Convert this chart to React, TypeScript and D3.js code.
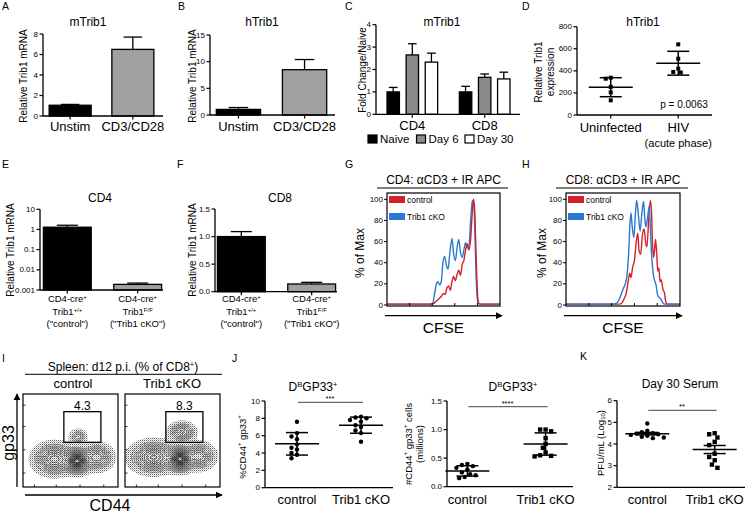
import React from 'react';
import * as d3 from 'd3';

const FONT = '"Liberation Sans", Arial, Helvetica, sans-serif';
const RED = '#d42027';
const BLUE = '#2a78d4';

// A: mTrib1
const stimCats = ['Unstim', 'CD3/CD28'];
const aMeans = [1.05, 6.5];
const aErrs = [0.08, 1.2];
const aTicks = [0, 2, 4, 6, 8];

// B: hTrib1
const bMeans = [1.05, 8.5];
const bErrs = [0.35, 1.9];
const bTicks = [0, 5, 10, 15];

// C: mTrib1 by day
const cGroups = ['CD4', 'CD8'];
const cSeries = ['Naive', 'Day 6', 'Day 30'];
const cCD4Means = [1.0, 2.65, 2.33];
const cCD4Errs = [0.2, 0.5, 0.4];
const cCD8Means = [1.0, 1.65, 1.58];
const cCD8Errs = [0.25, 0.15, 0.3];
const cTicks = [0, 1, 2, 3, 4];

// D: hTrib1 in HIV
const dCats = ['Uninfected', 'HIV'];
const dUninfected = [329, 338, 254, 205, 133];
const dHiv = [640, 510, 420, 390, 385];
const dTicks = [0, 200, 400, 600, 800];

// E / F: knockout check
const koCats = ['control', 'Trib1 cKO'];
const koGenotype = ['+/+', 'F/F'];
const eMeans = [1.3, 0.0019];
const eErrs = [0.32, 0.0003];
const eTicks = [0.001, 0.01, 0.1, 1, 10];
const fMeans = [1.0, 0.14];
const fErrs = [0.09, 0.03];
const fTicks = [0, 0.5, 1.0, 1.5];

// G / H: CFSE histograms, [CFSE position (% of axis), % of max]
const histTicks = [0, 20, 40, 60, 80, 100];
const gControl = [[0, 0.8], [40, 0.8], [42, 2], [44, 4], [46, 6], [48, 8], [50, 11], [51.5, 10], [53, 16], [54.5, 18], [56, 14], [57.5, 22], [59, 27], [60.5, 23], [62, 29], [63.5, 33], [65, 28], [66.5, 38], [68, 42], [69.5, 52], [71, 58], [72.5, 52], [74, 62], [75.5, 88], [76.5, 100], [77.5, 92], [78.5, 60], [79.5, 25], [80.5, 5], [82, 0.8], [100, 0.8]];
const gCko = [[0, 0.8], [38, 0.8], [40.5, 1.5], [42, 10], [43.5, 19], [45, 22], [46.5, 19], [48, 22], [49.5, 40], [51, 46], [52.5, 38], [54, 34], [55.5, 48], [57.5, 63], [59, 48], [60.5, 42], [62, 54], [63.5, 62], [65, 50], [66.5, 45], [68, 52], [69.5, 59], [71, 54], [72.5, 55], [74, 80], [75.5, 98], [76.5, 99], [77.5, 80], [78.5, 40], [79.5, 12], [80.5, 2], [82, 0.8], [100, 0.8]];
const hControl = [[0, 0.8], [47, 0.8], [49, 2], [51, 6], [53, 12], [54.5, 22], [56, 30], [57, 26], [58.5, 36], [60, 42], [61.5, 58], [63, 68], [64, 52], [65.5, 48], [67, 66], [68.5, 72], [70, 58], [71, 55], [72.5, 80], [74, 99], [75, 88], [76, 55], [77, 45], [78.5, 62], [79.5, 50], [80.5, 32], [81.5, 35], [82.5, 22], [83.5, 24], [85, 15], [86.5, 11], [87.5, 3], [89, 0.8], [100, 0.8]];
const hCko = [[0, 0.8], [42, 0.8], [44, 1.5], [46, 4], [48, 9], [50, 15], [52, 20], [53.5, 28], [55, 50], [56, 75], [57, 87], [58, 75], [59.5, 64], [61, 88], [62, 99], [63.5, 85], [65, 70], [66.5, 86], [68, 98], [69, 84], [70, 74], [71.5, 82], [73, 94], [74, 72], [75, 49], [76.5, 30], [77.5, 24], [79, 19], [80.5, 9], [82, 7], [83.5, 5], [85, 2], [86.5, 0.8], [100, 0.8]];

// I: flow populations [x, y, spreadX, spreadY, weight] as fractions of the plot
const iControlPops = [
  [0.57, 0.28, 0.06, 0.055, 1.0],
  [0.33, 0.30, 0.09, 0.07, 0.45],
  [0.78, 0.32, 0.07, 0.06, 0.3],
  [0.58, 0.54, 0.04, 0.035, 0.12],
];
const iCkoPops = [
  [0.58, 0.30, 0.06, 0.055, 1.0],
  [0.30, 0.32, 0.10, 0.07, 0.5],
  [0.78, 0.33, 0.07, 0.06, 0.3],
  [0.60, 0.59, 0.06, 0.045, 0.26],
];
const iGate = [0.43, 0.82, 0.48, 0.81];
const iGatePct = ['4.3', '8.3'];
const contourLevels = [0.035, 0.06, 0.09, 0.13, 0.18, 0.24, 0.31, 0.39, 0.47, 0.55, 0.63, 0.71, 0.79, 0.87, 0.94];

// J / K: individual mice
const jPctControl = [7.6, 6.3, 5.9, 5.6, 5.0, 4.6, 4.4, 4.0, 3.8, 3.4];
const jPctCko = [8.2, 8.1, 8.0, 7.8, 7.6, 7.2, 7.0, 6.6, 6.3, 5.3];
const jPctTicks = [0, 2, 4, 6, 8, 10];
const jNumControl = [0.40, 0.38, 0.36, 0.33, 0.30, 0.25, 0.22, 0.20, 0.17, 0.15];
const jNumCko = [1.0, 1.0, 0.97, 0.85, 0.75, 0.68, 0.60, 0.55, 0.54, 0.53];
const jNumTicks = [0, 0.5, 1.0, 1.5];
const kControl = [4.95, 4.62, 4.55, 4.5, 4.48, 4.45, 4.42, 4.38, 4.33, 4.3, 4.27];
const kCko = [4.5, 4.45, 4.3, 4.1, 3.95, 3.55, 3.4, 3.25, 3.05, 2.9];
const kTicks = [2, 3, 4, 5, 6];

const fmt1 = d3.format('.1f');

function YAxis({ x, y, ticks, fmt = (t: number) => String(t), size = 8 }: any) {
  const [y0, y1] = y.range();
  return (
    <g>
      <line x1={x} x2={x} y1={y0} y2={y1} stroke="#000" strokeWidth={1.3} />
      {ticks.map((t: number) => (
        <g key={t}>
          <line x1={x - 3.5} x2={x} y1={y(t)} y2={y(t)} stroke="#000" strokeWidth={1.2} />
          <text x={x - 5} y={y(t)} fontSize={size} textAnchor="end" dominantBaseline="central">{fmt(t)}</text>
        </g>
      ))}
    </g>
  );
}

function RotLabel({ x, y, size = 10, children }: any) {
  return (
    <text transform={`translate(${x},${y}) rotate(-90)`} fontSize={size} textAnchor="middle" dominantBaseline="central">
      {children}
    </text>
  );
}

function Letter({ x, y, children }: any) {
  return <text x={x} y={y} fontSize={10.5}>{children}</text>;
}

function Bars({ x, y, cats, means, errs, fills, axisX, axisEnd, ticks, fmt }: any) {
  const base = y.range()[0];
  const bw = x.bandwidth();
  return (
    <g>
      {cats.map((c: string, i: number) => {
        const cx = x(c) + bw / 2;
        const top = y(means[i]);
        const eTop = y(means[i] + errs[i]);
        return (
          <g key={c}>
            <line x1={cx} x2={cx} y1={top} y2={eTop} stroke="#000" strokeWidth={1.3} />
            <line x1={cx - bw * 0.22} x2={cx + bw * 0.22} y1={eTop} y2={eTop} stroke="#000" strokeWidth={1.3} />
            <rect x={x(c)} y={top} width={bw} height={base - top} fill={fills[i]} stroke="#000" strokeWidth={1.3} />
            <line x1={cx} x2={cx} y1={base} y2={base + 3.5} stroke="#000" strokeWidth={1.2} />
          </g>
        );
      })}
      <line x1={axisX} x2={axisEnd} y1={base} y2={base} stroke="#000" strokeWidth={1.3} />
      <YAxis x={axisX} y={y} ticks={ticks} fmt={fmt} />
    </g>
  );
}

function StimPanel({ means, errs, ticks, domainMax, yRange, axisX, axisEnd, bandRange, title, titleX, labelX }: any) {
  const y = d3.scaleLinear().domain([0, domainMax]).range(yRange);
  const x = d3.scaleBand().domain(stimCats).range(bandRange).paddingInner(0.33).paddingOuter(0.05);
  return (
    <g>
      <text x={titleX} y={26} fontSize={12} textAnchor="middle">{title}</text>
      <Bars x={x} y={y} cats={stimCats} means={means} errs={errs} fills={['#000', '#a0a0a0']} axisX={axisX} axisEnd={axisEnd} ticks={ticks} />
      {stimCats.map(c => (
        <text key={c} x={x(c)! + x.bandwidth() / 2} y={131} fontSize={13} textAnchor="middle">{c}</text>
      ))}
      <RotLabel x={labelX} y={76}>Relative Trib1 mRNA</RotLabel>
    </g>
  );
}

function PanelC() {
  const y = d3.scaleLinear().domain([0, 4]).range([114.3, 24.7]);
  const gx = d3.scaleBand().domain(cGroups).range([387, 510]).paddingInner(0.3);
  const sx = d3.scaleBand().domain(cSeries).range([0, gx.bandwidth()]).paddingInner(0.35);
  const fills = ['#000', '#8a8a8a', '#fff'];
  const groupMeans = [cCD4Means, cCD8Means];
  const groupErrs = [cCD4Errs, cCD8Errs];
  const base = y(0);
  return (
    <g>
      <text x={442} y={26} fontSize={12} textAnchor="middle">mTrib1</text>
      {cGroups.map((g, gi) => (
        <g key={g}>
          {cSeries.map((s, si) => {
            const x0 = gx(g)! + sx(s)!;
            const bw = sx.bandwidth();
            const v = groupMeans[gi][si];
            const e = y(v + groupErrs[gi][si]);
            return (
              <g key={s}>
                <line x1={x0 + bw / 2} x2={x0 + bw / 2} y1={y(v)} y2={e} stroke="#000" strokeWidth={1.3} />
                <line x1={x0 + bw * 0.15} x2={x0 + bw * 0.85} y1={e} y2={e} stroke="#000" strokeWidth={1.3} />
                <rect x={x0} y={y(v)} width={bw} height={base - y(v)} fill={fills[si]} stroke="#000" strokeWidth={1.3} />
              </g>
            );
          })}
          <line x1={gx(g)! + gx.bandwidth() / 2} x2={gx(g)! + gx.bandwidth() / 2} y1={base} y2={base + 3.5} stroke="#000" strokeWidth={1.2} />
          <text x={gx(g)! + gx.bandwidth() / 2} y={130} fontSize={13} textAnchor="middle">{g}</text>
        </g>
      ))}
      <line x1={376} x2={520} y1={base} y2={base} stroke="#000" strokeWidth={1.3} />
      <YAxis x={376} y={y} ticks={cTicks} />
      <RotLabel x={362} y={70}>Fold Change/Naive</RotLabel>
      {cSeries.map((s, i) => (
        <g key={s} transform={`translate(${368 + i * 48.5},139)`}>
          <rect x={0} y={-4} width={9} height={8} fill={fills[i]} stroke="#000" strokeWidth={1.2} />
          <text x={12} y={0} fontSize={11.5} dominantBaseline="central">{s}</text>
        </g>
      ))}
    </g>
  );
}

function swarm(values: number[], y: any, r: number) {
  const order = values.map((_, i) => i).sort((a, b) => values[b] - values[a]);
  const placed: { o: number; y: number }[] = [];
  const offs = new Array(values.length).fill(0);
  order.forEach(i => {
    const yy = y(values[i]);
    for (let k = 0; k < 30; k++) {
      const o = (k % 2 === 0 ? 1 : -1) * Math.ceil(k / 2) * r * 1.25;
      const hit = placed.some(p => (p.o - o) ** 2 + (p.y - yy) ** 2 < (2 * r + 0.3) ** 2);
      if (!hit) { offs[i] = o; placed.push({ o, y: yy }); break; }
    }
  });
  return offs;
}

function DotGroup({ cx, y, values, shape, bar, r = 2.2 }: any) {
  const offs = swarm(values, y, r);
  const mean = d3.mean(values)!;
  const spread = bar === 'sem' ? d3.deviation(values)! / Math.sqrt(values.length) : d3.deviation(values)!;
  const hi = y(mean + spread), lo = y(mean - spread), m = y(mean);
  return (
    <g>
      {values.map((v: number, i: number) =>
        shape === 'square'
          ? <rect key={i} x={cx + offs[i] - r} y={y(v) - r} width={2 * r} height={2 * r} fill="#000" />
          : <circle key={i} cx={cx + offs[i]} cy={y(v)} r={r} fill="#000" />
      )}
      <line x1={cx - 22} x2={cx + 22} y1={m} y2={m} stroke="#000" strokeWidth={1.5} />
      <line x1={cx} x2={cx} y1={hi} y2={lo} stroke="#000" strokeWidth={1.5} />
      <line x1={cx - 11} x2={cx + 11} y1={hi} y2={hi} stroke="#000" strokeWidth={1.5} />
      <line x1={cx - 11} x2={cx + 11} y1={lo} y2={lo} stroke="#000" strokeWidth={1.5} />
    </g>
  );
}

function PanelD() {
  const y = d3.scaleLinear().domain([0, 800]).range([115, 26.7]);
  const x = d3.scalePoint().domain(dCats).range([577, 712]).padding(0.5);
  return (
    <g>
      <text x={643} y={26} fontSize={12} textAnchor="middle">hTrib1</text>
      <DotGroup cx={x('Uninfected')} y={y} values={dUninfected} shape="square" r={2} />
      <DotGroup cx={x('HIV')} y={y} values={dHiv} shape="square" r={2} />
      <line x1={577} x2={712} y1={y(0)} y2={y(0)} stroke="#000" strokeWidth={1.3} />
      {dCats.map(c => <line key={c} x1={x(c)} x2={x(c)} y1={y(0)} y2={y(0) + 3.5} stroke="#000" strokeWidth={1.2} />)}
      <YAxis x={577} y={y} ticks={dTicks} />
      <text x={684} y={108} fontSize={10} textAnchor="middle">p = 0.0063</text>
      <text x={x('Uninfected')} y={132} fontSize={13} textAnchor="middle">Uninfected</text>
      <text x={x('HIV')} y={132} fontSize={13} textAnchor="middle">HIV</text>
      <text x={x('HIV')} y={147} fontSize={11} textAnchor="middle">(acute phase)</text>
      <RotLabel x={538} y={72}>Relative Trib1</RotLabel>
      <RotLabel x={550} y={72}>expression</RotLabel>
    </g>
  );
}

function KoLabels({ x, y0 }: any) {
  return (
    <g>
      {koCats.map((c, i) => {
        const cx = x(c) + x.bandwidth() / 2;
        return (
          <g key={c} fontSize={9.5} textAnchor="middle">
            <text x={cx} y={y0}>CD4-cre<tspan fontSize={6} baselineShift="super">+</tspan></text>
            <text x={cx} y={y0 + 12.5}>Trib1<tspan fontSize={6} baselineShift="super">{koGenotype[i]}</tspan></text>
            <text x={cx} y={y0 + 25}>("{c}")</text>
          </g>
        );
      })}
    </g>
  );
}

function PanelE() {
  const y = d3.scaleLog().domain([0.001, 10]).range([290, 209.3]);
  const x = d3.scaleBand().domain(koCats).range([42, 163]).paddingInner(0.32).paddingOuter(0.02);
  return (
    <g>
      <text x={100} y={202} fontSize={12} textAnchor="middle">CD4</text>
      <Bars x={x} y={y} cats={koCats} means={eMeans} errs={eErrs} fills={['#000', '#a0a0a0']} axisX={40} axisEnd={163} ticks={eTicks} fmt={(t: number) => String(t)} />
      <KoLabels x={x} y0={302} />
      <RotLabel x={10} y={250}>Relative Trib1 mRNA</RotLabel>
    </g>
  );
}

function PanelF() {
  const y = d3.scaleLinear().domain([0, 1.5]).range([291.7, 209]);
  const x = d3.scaleBand().domain(koCats).range([216, 337]).paddingInner(0.32).paddingOuter(0.02);
  return (
    <g>
      <text x={280} y={202} fontSize={12} textAnchor="middle">CD8</text>
      <Bars x={x} y={y} cats={koCats} means={fMeans} errs={fErrs} fills={['#000', '#a0a0a0']} axisX={215} axisEnd={337} ticks={fTicks} fmt={fmt1} />
      <KoLabels x={x} y0={302} />
      <RotLabel x={192} y={250}>Relative Trib1 mRNA</RotLabel>
    </g>
  );
}

function Histogram({ left, right, title, control, cko, blueOnTop, labelX }: any) {
  const top = 193, bottom = 306;
  const x = d3.scaleLinear().domain([0, 100]).range([left, right]);
  const y = d3.scaleLinear().domain([0, 100]).range([305, 199.3]);
  const line = d3.line<number[]>().x(d => x(d[0])).y(d => y(d[1])).curve(d3.curveMonotoneX);
  const mid = (left + right) / 2;
  const red = <path d={line(control)!} fill="none" stroke={RED} strokeWidth={1.4} />;
  const blue = <path d={line(cko)!} fill="none" stroke={BLUE} strokeWidth={1.4} />;
  return (
    <g>
      <text x={mid} y={184} fontSize={12} textAnchor="middle">{title}</text>
      <line x1={left - 10} x2={right + 8} y1={188} y2={188} stroke="#000" strokeWidth={1} />
      {blueOnTop ? [red, blue].map((p, i) => <g key={i}>{p}</g>) : [blue, red].map((p, i) => <g key={i}>{p}</g>)}
      <rect x={left} y={top} width={right - left} height={bottom - top} fill="none" stroke="#000" strokeWidth={1.2} />
      {histTicks.map(t => (
        <g key={t}>
          <line x1={left - 3} x2={left} y1={y(t)} y2={y(t)} stroke="#000" strokeWidth={1} />
          <text x={left - 4} y={y(t)} fontSize={8} textAnchor="end" dominantBaseline="central">{t}</text>
        </g>
      ))}
      {[20, 40, 60, 80].map(t => (
        <line key={t} x1={x(t)} x2={x(t)} y1={bottom} y2={bottom - 3} stroke="#000" strokeWidth={1} />
      ))}
      <rect x={left + 2} y={196} width={16} height={7} fill={RED} />
      <text x={left + 20} y={200} fontSize={8.5} dominantBaseline="central">control</text>
      <rect x={left + 2} y={213} width={16} height={7} fill={BLUE} />
      <text x={left + 20} y={217} fontSize={8.5} dominantBaseline="central">Trib1 cKO</text>
      <line x1={left - 2} x2={right + 2} y1={315.7} y2={315.7} stroke="#000" strokeWidth={1.3} markerEnd="url(#arrow)" />
      <text x={mid} y={333} fontSize={15.5} textAnchor="middle">CFSE</text>
      <RotLabel x={labelX} y={253} size={12}>% of Max</RotLabel>
    </g>
  );
}

function FlowPlot({ x, y, w, h, pops, pct }: any) {
  const n = 64;
  const grid: number[] = [];
  for (let j = 0; j < n; j++) {
    for (let i = 0; i < n; i++) {
      const fx = (i + 0.5) / n, fy = 1 - (j + 0.5) / n;
      let v = 0;
      pops.forEach((p: number[]) => {
        v += p[4] * Math.exp(-((fx - p[0]) ** 2) / (2 * p[2] ** 2) - ((fy - p[1]) ** 2) / (2 * p[3] ** 2));
      });
      grid.push(v);
    }
  }
  const max = d3.max(grid)!;
  const proj = d3.geoTransform({
    point(px: number, py: number) { (this as any).stream.point(x + (px * w) / n, y + (py * h) / n); },
  });
  const path = d3.geoPath(proj);
  const halo = d3.contours().size([n, n]).thresholds([max * 0.005])(grid);
  const lines = d3.contours().size([n, n]).thresholds(contourLevels.map(l => l * max))(grid);
  const shade = d3.scaleLinear<string>().domain([0, lines.length - 1]).range(['#6f6f6f', '#000']);
  const [gx0, gx1, gy0, gy1] = iGate;
  return (
    <g>
      {halo.map((c, i) => <path key={i} d={path(c as any)!} fill="url(#speckle)" stroke="none" />)}
      {lines.map((c, i) => <path key={i} d={path(c as any)!} fill="none" stroke={shade(i)} strokeWidth={0.8} />)}
      <rect x={x} y={y} width={w} height={h} fill="none" stroke="#000" strokeWidth={1.2} />
      <rect x={x + gx0 * w} y={y + (1 - gy1) * h} width={(gx1 - gx0) * w} height={(gy1 - gy0) * h} fill="none" stroke="#000" strokeWidth={1.3} />
      <text x={x + ((gx0 + gx1) / 2) * w} y={y + (1 - gy1) * h - 1.5} fontSize={12} textAnchor="middle">{pct}</text>
      {[0.12, 0.35, 0.6, 0.85].map(t => (
        <g key={t}>
          <line x1={x} x2={x + 2.5} y1={y + t * h} y2={y + t * h} stroke="#000" strokeWidth={0.8} />
          <line x1={x + t * w} x2={x + t * w} y1={y + h} y2={y + h - 2.5} stroke="#000" strokeWidth={0.8} />
        </g>
      ))}
    </g>
  );
}

function PanelI() {
  return (
    <g>
      <text x={123} y={370.5} fontSize={12} textAnchor="middle">
        Spleen: d12 p.i. (% of CD8<tspan fontSize={7.5} baselineShift="super">+</tspan>)
      </text>
      <line x1={25} x2={222} y1={374.3} y2={374.3} stroke="#000" strokeWidth={1} />
      <text x={73} y={388} fontSize={13} textAnchor="middle">control</text>
      <text x={172} y={388} fontSize={13} textAnchor="middle">Trib1 cKO</text>
      <FlowPlot x={23} y={394} w={95} h={93} pops={iControlPops} pct={iGatePct[0]} />
      <FlowPlot x={125} y={394} w={95} h={93} pops={iCkoPops} pct={iGatePct[1]} />
      <line x1={25} x2={222} y1={495} y2={495} stroke="#000" strokeWidth={1.3} markerEnd="url(#arrow)" />
      <line x1={17} x2={17} y1={487} y2={394} stroke="#000" strokeWidth={1.3} markerEnd="url(#arrow)" />
      <text x={110} y={511} fontSize={16} textAnchor="middle">CD44</text>
      <RotLabel x={8} y={443} size={16}>gp33</RotLabel>
    </g>
  );
}

function Title33({ x, y }: any) {
  return (
    <text x={x} y={y} fontSize={12} textAnchor="middle">
      D<tspan fontSize={7.5} baselineShift="super">B</tspan>GP33<tspan fontSize={7.5} baselineShift="super">+</tspan>
    </text>
  );
}

function ScatterPair({ axisX, axisEnd, pointRange, y, ticks, fmt, ctrl, cko, ctrlShape, ckoShape, bar, sigY, stars, pad = 0.5 }: any) {
  const x = d3.scalePoint().domain(koCats).range(pointRange || [axisX, axisEnd]).padding(pad);
  const base = y.range()[0];
  const c0 = x('control')!, c1 = x('Trib1 cKO')!;
  return (
    <g>
      <line x1={c0 + 1} x2={c1 + 2} y1={sigY} y2={sigY} stroke="#444" strokeWidth={1} />
      <text x={(c0 + c1) / 2 + 1} y={sigY - 1.2} fontSize={7.5} textAnchor="middle">{stars}</text>
      <DotGroup cx={c0} y={y} values={ctrl} shape={ctrlShape} bar={bar} />
      <DotGroup cx={c1} y={y} values={cko} shape={ckoShape} bar={bar} />
      <line x1={axisX} x2={axisEnd} y1={base} y2={base} stroke="#000" strokeWidth={1.3} />
      <YAxis x={axisX} y={y} ticks={ticks} fmt={fmt} />
      {koCats.map(c => (
        <text key={c} x={x(c)} y={503.5} fontSize={13} textAnchor="middle">{c}</text>
      ))}
    </g>
  );
}

function PanelJ() {
  const y1 = d3.scaleLinear().domain([0, 10]).range([487.7, 401]);
  const y2 = d3.scaleLinear().domain([0, 1.5]).range([486.7, 401]);
  return (
    <g>
      <Title33 x={313} y={391} />
      <ScatterPair axisX={265} axisEnd={393} y={y1} ticks={jPctTicks} ctrl={jPctControl} cko={jPctCko} ctrlShape="circle" ckoShape="circle" bar="sd" sigY={402.3} stars="***" />
      <RotLabel x={242} y={447} size={9.5}>
        %CD44<tspan fontSize={6} baselineShift="super">+</tspan> gp33<tspan fontSize={6} baselineShift="super">+</tspan>
      </RotLabel>
      <Title33 x={513} y={391} />
      <ScatterPair axisX={447} axisEnd={573} pointRange={[440, 573]} pad={0.35} y={y2} ticks={jNumTicks} fmt={fmt1} ctrl={jNumControl} cko={jNumCko} ctrlShape="circle" ckoShape="square" bar="sd" sigY={406.7} stars="****" />
      <RotLabel x={408} y={444} size={9.5}>
        #CD44<tspan fontSize={6} baselineShift="super">+</tspan> gp33<tspan fontSize={6} baselineShift="super">+</tspan> cells
      </RotLabel>
      <RotLabel x={419} y={444} size={9.5}>(millions)</RotLabel>
    </g>
  );
}

function PanelK() {
  const y = d3.scaleLinear().domain([2, 6]).range([487.3, 400.7]);
  return (
    <g>
      <text x={680} y={388.3} fontSize={12} textAnchor="middle">Day 30 Serum</text>
      <ScatterPair axisX={617} axisEnd={745} y={y} ticks={kTicks} ctrl={kControl} cko={kCko} ctrlShape="circle" ckoShape="square" bar="sem" sigY={410.3} stars="**" pad={0.45} />
      <RotLabel x={600} y={443} size={9.5}>
        PFU/mL (Log<tspan fontSize={6} baselineShift="sub">10</tspan>)
      </RotLabel>
    </g>
  );
}

export default function App() {
  return (
    <svg width={746} height={513} style={{ position: 'absolute', left: 0, top: 0, background: '#fff' }} fontFamily={FONT}>
      <defs>
        <marker id="arrow" viewBox="0 0 10 10" refX="9" refY="5" markerWidth="5.5" markerHeight="5.5" orient="auto">
          <path d="M0,0 L10,5 L0,10 z" fill="#000" />
        </marker>
        <pattern id="speckle" width="2" height="2" patternUnits="userSpaceOnUse">
          <rect width="1" height="1" fill="#5f5f5f" />
          <rect x="1" y="1" width="0.8" height="0.8" fill="#9a9a9a" />
        </pattern>
      </defs>
      <rect width={746} height={513} fill="#fff" />
      <Letter x={2} y={10}>A</Letter>
      <Letter x={178} y={10}>B</Letter>
      <Letter x={345} y={10}>C</Letter>
      <Letter x={522} y={10}>D</Letter>
      <Letter x={2} y={168}>E</Letter>
      <Letter x={177} y={168}>F</Letter>
      <Letter x={345} y={168}>G</Letter>
      <Letter x={522} y={168}>H</Letter>
      <Letter x={2} y={362}>I</Letter>
      <Letter x={232} y={362}>J</Letter>
      <Letter x={580} y={360}>K</Letter>
      <StimPanel means={aMeans} errs={aErrs} ticks={aTicks} domainMax={8} yRange={[116, 34]} axisX={43} axisEnd={163} bandRange={[46, 157]} title="mTrib1" titleX={88} labelX={23} />
      <StimPanel means={bMeans} errs={bErrs} ticks={bTicks} domainMax={15} yRange={[115, 35]} axisX={210} axisEnd={335} bandRange={[213, 330]} title="hTrib1" titleX={262} labelX={192} />
      <PanelC />
      <PanelD />
      <PanelE />
      <PanelF />
      <Histogram left={387} right={500} title="CD4: αCD3 + IR APC" control={gControl} cko={gCko} blueOnTop={false} labelX={360} />
      <Histogram left={566} right={680} title="CD8: αCD3 + IR APC" control={hControl} cko={hCko} blueOnTop={true} labelX={542} />
      <PanelI />
      <PanelJ />
      <PanelK />
    </svg>
  );
}
